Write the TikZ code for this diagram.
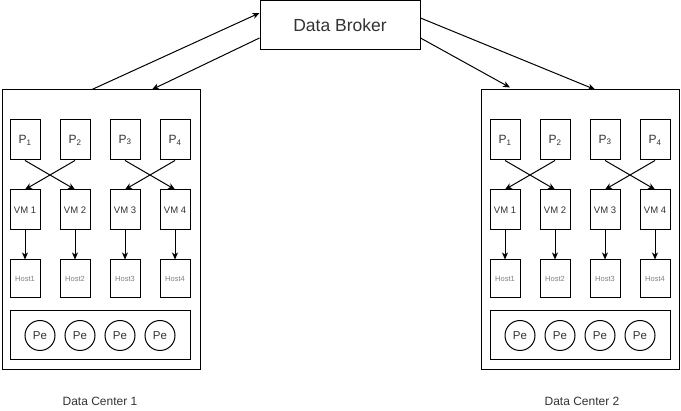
\documentclass[tikz,border=0pt]{standalone}
\usepackage{fontspec}
\setmainfont{Liberation Sans}
\usepackage{tikz}
\usetikzlibrary{arrows.meta,positioning}
\usepackage{xcolor}
\definecolor{darktext}{HTML}{333333}
\definecolor{hosttext}{HTML}{808080}
\newcommand{\Pname}[1]{P\textsubscript{#1}}
\begin{document}
\begin{tikzpicture}[x=1pt,y=-1pt,line width=1pt,>={Stealth[length=7pt,width=6pt,inset=2pt]},
  every node/.style={text=darktext},
  dcbox/.style={rectangle,draw,minimum width=198pt,minimum height=280pt,inner sep=0pt},
  pbox/.style={rectangle,draw,minimum width=30pt,minimum height=40pt,inner sep=0pt,font=\fontsize{12}{14}\selectfont},
  vmbox/.style={rectangle,draw,minimum width=30pt,minimum height=40pt,inner sep=0pt,font=\fontsize{9.5}{11}\selectfont},
  hostbox/.style={rectangle,draw,minimum width=30pt,minimum height=38pt,inner sep=0pt,font=\fontsize{7.5}{9}\selectfont,text=hosttext},
  pebox/.style={rectangle,draw,minimum width=180pt,minimum height=49pt,inner sep=0pt},
  pecirc/.style={circle,draw,minimum size=30pt,inner sep=0pt,font=\fontsize{11.5}{13}\selectfont}]
\useasboundingbox (0,0) rectangle (681,411);
% \draw[help lines,step=50] (0,0) grid (681,411);
\node (broker) [rectangle,draw,minimum width=160pt,minimum height=49pt,inner sep=0pt,font=\fontsize{17.5}{20}\selectfont] at (340,25.5) {Data Broker};
\node (dc1) [dcbox] at (101,230) {};
\node (dc2) [dcbox] at (580,230) {};
%
\node (p11) [pbox] at (25,140) {\Pname{1}};
\node (p12) [pbox] at (75,140) {\Pname{2}};
\node (p13) [pbox] at (125,140) {\Pname{3}};
\node (p14) [pbox] at (175,140) {\Pname{4}};
\node (v11) [vmbox] at (25,210) {VM 1};
\node (v12) [vmbox] at (75,210) {VM 2};
\node (v13) [vmbox] at (125,210) {VM 3};
\node (v14) [vmbox] at (175,210) {VM 4};
\node (h11) [hostbox] at (25,279) {Host1};
\node (h12) [hostbox] at (75,279) {Host2};
\node (h13) [hostbox] at (125,279) {Host3};
\node (h14) [hostbox] at (175,279) {Host4};
\node (pec1) [pebox] at (100,335.5) {};
\node (e11) [pecirc] at (40,335.5) {Pe};
\node (e12) [pecirc] at (80,335.5) {Pe};
\node (e13) [pecirc] at (120,335.5) {Pe};
\node (e14) [pecirc] at (160,335.5) {Pe};
%
\node (p21) [pbox] at (505,140) {\Pname{1}};
\node (p22) [pbox] at (555,140) {\Pname{2}};
\node (p23) [pbox] at (605,140) {\Pname{3}};
\node (p24) [pbox] at (655,140) {\Pname{4}};
\node (v21) [vmbox] at (505,210) {VM 1};
\node (v22) [vmbox] at (555,210) {VM 2};
\node (v23) [vmbox] at (605,210) {VM 3};
\node (v24) [vmbox] at (655,210) {VM 4};
\node (h21) [hostbox] at (505,279) {Host1};
\node (h22) [hostbox] at (555,279) {Host2};
\node (h23) [hostbox] at (605,279) {Host3};
\node (h24) [hostbox] at (655,279) {Host4};
\node (pec2) [pebox] at (580,335.5) {};
\node (e21) [pecirc] at (520,335.5) {Pe};
\node (e22) [pecirc] at (560,335.5) {Pe};
\node (e23) [pecirc] at (600,335.5) {Pe};
\node (e24) [pecirc] at (640,335.5) {Pe};
%
\node (l1) [font=\fontsize{12}{14}\selectfont] at (100,401) {Data Center 1};
\node (l2) [font=\fontsize{12}{14}\selectfont] at (582,401) {Data Center 2};
%
\path[->] ([xshift=-9pt]dc1.north) edge ([yshift=12.5pt]broker.west);
\path[->] ([yshift=-12.5pt]broker.west) edge ([xshift=51pt]dc1.north);
\path[->] ([yshift=7.5pt]broker.east) edge ([xshift=15pt]dc2.north);
\path[->] ([yshift=-12.5pt]broker.east) edge ([xshift=-70pt,yshift=2pt]dc2.north);
%
\path[->] (p11.south) edge (v12.north);
\path[->] (p12.south) edge (v11.north);
\path[->] (p13.south) edge (v14.north);
\path[->] (p14.south) edge (v13.north);
\path[->] (v11) edge (h11);
\path[->] (v12) edge (h12);
\path[->] (v13) edge (h13);
\path[->] (v14) edge (h14);
%
\path[->] (p21.south) edge (v22.north);
\path[->] (p22.south) edge (v21.north);
\path[->] (p23.south) edge (v24.north);
\path[->] (p24.south) edge (v23.north);
\path[->] (v21) edge (h21);
\path[->] (v22) edge (h22);
\path[->] (v23) edge (h23);
\path[->] (v24) edge (h24);
\end{tikzpicture}
\end{document}
